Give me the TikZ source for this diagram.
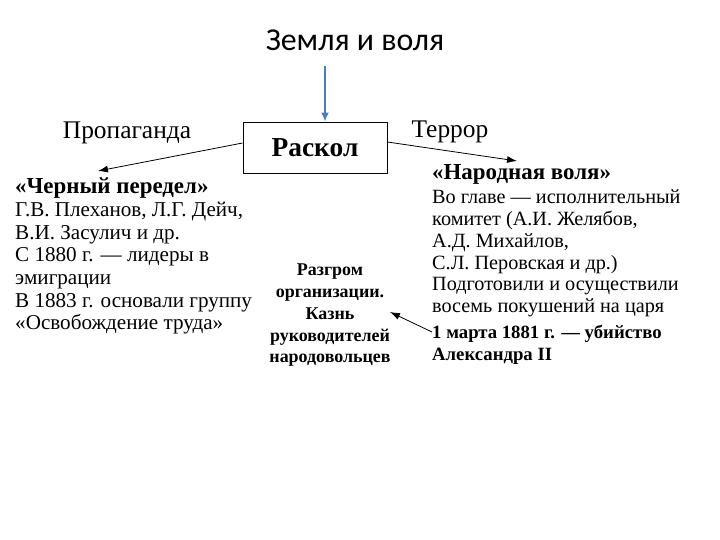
\documentclass[tikz,border=0pt]{standalone}
\usepackage{fontspec}
\setmainfont{Liberation Serif}
\newfontfamily\titlefont{Carlito}
\usetikzlibrary{arrows.meta}
\definecolor{bluearrow}{HTML}{4A7EBB}
\begin{document}
\begin{tikzpicture}[x=1bp,y=-1bp,
  txt/.style={inner sep=0pt, align=left, anchor=north west},
  mid/.style={inner sep=0pt, align=center, anchor=north, font=\bfseries\fontsize{18}{21.8}\selectfont},
  conn/.style={-{Latex[length=10pt,width=7pt]}, line width=0.8pt},
  lbl/.style={inner sep=0pt, font=\fontsize{25.5}{28}\selectfont}]
\useasboundingbox (0,0) rectangle (720,540);
\node[inner sep=0pt, font=\titlefont\fontsize{32}{36}\selectfont] (title) at (355,40) {Земля и воля};
\coordinate (bstart) at (325,66);
\node[draw, line width=0.8pt, minimum width=144bp, minimum height=51bp, inner sep=0pt, font=\bfseries\fontsize{27.5}{30}\selectfont] (raskol) at (315,147.5) {Раскол};
\draw[-{Latex[length=9pt,width=8pt]}, line width=2pt, bluearrow] (bstart) -- (raskol.north -| bstart);
\node[lbl] (prop) at (127,133) {Пропаганда};
\node[lbl] (terror) at (450,132) {Террор};
\node[txt, font=\fontsize{21.2}{22.7}\selectfont] (cp) at (15,178) {\textbf{\fontsize{23}{22.7}\selectfont«Черный передел»}\\Г.В. Плеханов, Л.Г. Дейч,\\В.И. Засулич и др.\\С 1880 г. — лидеры в\\эмиграции\\В 1883 г. основали группу\\«Освобождение труда»};
\node[txt, font=\fontsize{20.3}{21.8}\selectfont] (nv) at (432,164) {\textbf{\fontsize{23}{21.8}\selectfont«Народная воля»}\\[3bp]Во главе — исполнительный\\комитет (А.И. Желябов,\\А.Д. Михайлов,\\С.Л. Перовская и др.)\\Подготовили и осуществили\\восемь покушений на царя};
\node[txt, font=\bfseries\fontsize{18.8}{22}\selectfont] (mart) at (432,325) {1 марта 1881 г. — убийство\\Александра II};
\node[mid] (razgrom) at (330,264) {Разгром\\организации.\\Казнь\\руководителей\\народовольцев};
\coordinate (cpt) at (98,171);
\coordinate (nvt) at (517,161);
\coordinate (rzt) at (390,312);
\draw[conn] (raskol.west |- 0,143) -- (cpt);
\draw[conn] (raskol.east |- 0,142) -- (nvt);
\draw[conn] (mart.west |- 0,332) -- (rzt);
\end{tikzpicture}
\end{document}
